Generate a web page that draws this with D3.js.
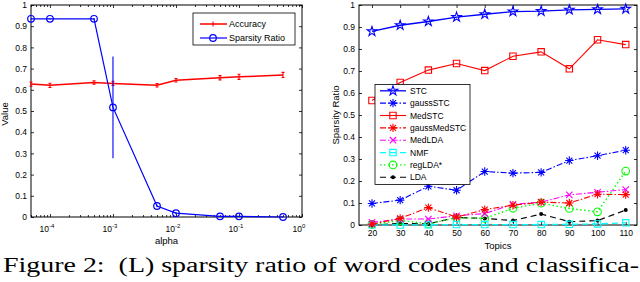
<!DOCTYPE html>
<html><head><meta charset="utf-8">
<script src="https://cdn.jsdelivr.net/npm/d3@7/dist/d3.min.js"></script>
<style>body{margin:0;background:#fff}svg{display:block}</style>
</head><body><svg id="c" width="640" height="282"></svg>
<script>
// ---------- Left chart data ----------
const alpha = [5e-5, 1e-4, 5e-4, 1e-3, 5e-3, 1e-2, 5e-2, 1e-1, 5e-1];
const accuracy = [0.627, 0.621, 0.635, 0.630, 0.621, 0.645, 0.657, 0.661, 0.670];
const accuracyErr = [0.010, 0.010, 0.008, 0.010, 0.008, 0.008, 0.010, 0.012, 0.012];
const sparsity = [0.935, 0.935, 0.935, 0.517, 0.052, 0.018, 0.003, 0.003, 0.000];
const sparsityErr = [0.003, 0.003, 0.003, 0.240, 0.006, 0.005, 0.002, 0.002, 0.002];
const leftYTicks = [0, 0.1, 0.2, 0.3, 0.4, 0.5, 0.6, 0.7, 0.8, 0.9, 1];
const leftYLabels = ["0", "0.1", "0.2", "0.3", "0.4", "0.5", "0.6", "0.7", "0.8", "0.9", "1"];
const leftXTicks = [1e-4, 1e-3, 1e-2, 1e-1, 1];
const leftXExp = ["-4", "-3", "-2", "-1", "0"];
const leftLegend = ["Accuracy", "Sparsity Ratio"];

// ---------- Right chart data ----------
const topics = [20, 30, 40, 50, 60, 70, 80, 90, 100, 110];
const stc = [0.880, 0.908, 0.925, 0.945, 0.958, 0.970, 0.972, 0.978, 0.980, 0.982];
const gaussStc = [0.098, 0.113, 0.176, 0.158, 0.243, 0.236, 0.239, 0.293, 0.315, 0.340];
const medStc = [0.566, 0.648, 0.704, 0.734, 0.702, 0.767, 0.787, 0.710, 0.842, 0.820];
const gaussMedStc = [0.004, 0.030, 0.079, 0.036, 0.070, 0.090, 0.104, 0.100, 0.140, 0.138];
const medLda = [0.012, 0.027, 0.027, 0.042, 0.052, 0.094, 0.104, 0.137, 0.149, 0.161];
const nmf = [0.001, 0.000, 0.001, 0.002, 0.002, 0.002, 0.002, 0.003, 0.005, 0.010];
const regLda = [0.003, 0.020, 0.006, 0.033, 0.030, 0.076, 0.099, 0.075, 0.060, 0.245];
const lda = [0.000, 0.007, 0.005, 0.034, 0.030, 0.020, 0.050, 0.015, 0.020, 0.068];
const rightYTicks = [0, 0.1, 0.2, 0.3, 0.4, 0.5, 0.6, 0.7, 0.8, 0.9, 1];
const rightYLabels = ["0", "0.1", "0.2", "0.3", "0.4", "0.5", "0.6", "0.7", "0.8", "0.9", "1"];
const seriesNames = ["STC", "gaussSTC", "MedSTC", "gaussMedSTC", "MedLDA", "NMF", "regLDA*", "LDA"];

const caption = "Figure 2:  (L) sparsity ratio of word codes and classifica-";

// ---------- drawing ----------
const svg = d3.select("#c");
const FONT = "'Liberation Sans', Arial, Helvetica, sans-serif";

function marker(g, type, cx, cy, color) {
  const p = d3.path();
  if (type === "star") {
    g.append("path").attr("d", d3.symbol(d3.symbolStar).size(28)())
      .attr("transform", `translate(${cx},${cy})`)
      .attr("fill", "none").attr("stroke", color).attr("stroke-width", 1.1);
    return;
  }
  if (type === "asterisk") {
    const r = 4.2, a = 3;
    p.moveTo(cx - r, cy); p.lineTo(cx + r, cy);
    p.moveTo(cx, cy - r); p.lineTo(cx, cy + r);
    p.moveTo(cx - a, cy - a); p.lineTo(cx + a, cy + a);
    p.moveTo(cx - a, cy + a); p.lineTo(cx + a, cy - a);
  } else if (type === "x") {
    const a = 3.2;
    p.moveTo(cx - a, cy - a); p.lineTo(cx + a, cy + a);
    p.moveTo(cx - a, cy + a); p.lineTo(cx + a, cy - a);
  } else if (type === "square") {
    p.rect(cx - 3.2, cy - 3.2, 6.4, 6.4);
  } else if (type === "circle") {
    g.append("circle").attr("cx", cx).attr("cy", cy).attr("r", 3.8)
      .attr("fill", "none").attr("stroke", color).attr("stroke-width", 1.1);
    return;
  } else if (type === "dot") {
    g.append("circle").attr("cx", cx).attr("cy", cy).attr("r", 2)
      .attr("fill", color).attr("stroke", "none");
    return;
  } else if (type === "circleSmall") {
    g.append("circle").attr("cx", cx).attr("cy", cy).attr("r", 3.3)
      .attr("fill", "none").attr("stroke", color).attr("stroke-width", 1.2);
    return;
  }
  g.append("path").attr("d", p.toString()).attr("fill", "none")
    .attr("stroke", color).attr("stroke-width", 1.1);
}

function frame(g, x0, x1, y0, y1) {
  g.append("rect").attr("x", x0).attr("y", y0).attr("width", x1 - x0).attr("height", y1 - y0)
    .attr("fill", "none").attr("stroke", "#000").attr("stroke-width", 1);
}

// ===== LEFT CHART =====
{
  const L = 31, R = 302, T = 5, B = 217;
  const x = d3.scaleLog().domain([5e-5, 1]).range([L, R]);
  const y = d3.scaleLinear().domain([0, 1]).range([B, T]);
  const g = svg.append("g");

  const yl = g.append("g").attr("transform", `translate(${L},0)`)
    .call(d3.axisLeft(y).tickValues(leftYTicks).tickSizeInner(-3).tickSizeOuter(0).tickPadding(4)
      .tickFormat((d, i) => leftYLabels[i]));
  g.append("g").attr("transform", `translate(${R},0)`)
    .call(d3.axisRight(y).tickValues(leftYTicks).tickSizeInner(-3).tickSizeOuter(0).tickFormat(""));
  const minor = x.ticks().filter(v => !leftXTicks.some(m => Math.abs(Math.log10(m) - Math.log10(v)) < 1e-6));
  g.append("g").attr("transform", `translate(0,${B})`)
    .call(d3.axisBottom(x).tickValues(leftXTicks).tickSizeInner(-3).tickSizeOuter(0).tickFormat(""));
  g.append("g").attr("transform", `translate(0,${B})`)
    .call(d3.axisBottom(x).tickValues(minor).tickSizeInner(-2).tickSizeOuter(0).tickFormat(""));
  g.append("g").attr("transform", `translate(0,${T})`)
    .call(d3.axisTop(x).tickValues(leftXTicks).tickSizeInner(-3).tickSizeOuter(0).tickFormat(""));
  g.append("g").attr("transform", `translate(0,${T})`)
    .call(d3.axisTop(x).tickValues(minor).tickSizeInner(-2).tickSizeOuter(0).tickFormat(""));
  g.selectAll(".domain").remove();
  g.selectAll(".tick line").attr("stroke", "#000").attr("stroke-width", 0.8);
  yl.selectAll("text").attr("font-family", FONT).attr("font-size", 8.5).attr("fill", "#000");

  leftXTicks.forEach((v, i) => {
    const t = g.append("text").attr("x", x(v) - 3).attr("y", B + 15)
      .attr("text-anchor", "middle").attr("font-family", FONT).attr("font-size", 8.5);
    t.append("tspan").text("10");
    t.append("tspan").attr("dy", -4).attr("font-size", 6).text(leftXExp[i]);
  });
  frame(g, L, R, T, B);

  g.append("text").attr("x", (L + R) / 2).attr("y", 244).attr("text-anchor", "middle")
    .attr("font-family", FONT).attr("font-size", 9.5).text("alpha");
  g.append("text").attr("transform", `translate(8,${(T + B) / 2 + 3}) rotate(-90)`)
    .attr("text-anchor", "middle").attr("font-family", FONT).attr("font-size", 9.5).text("Value");

  const RED = "#ff0000", BLUE = "#0000ff";
  g.append("path").datum(alpha.map((a, i) => [a, accuracy[i]]))
    .attr("d", d3.line().x(d => x(d[0])).y(d => y(d[1])))
    .attr("fill", "none").attr("stroke", RED).attr("stroke-width", 1.5);
  alpha.forEach((a, i) => {
    const cx = x(a), y1 = y(accuracy[i] - accuracyErr[i]), y2 = y(accuracy[i] + accuracyErr[i]);
    g.append("path").attr("d", `M${cx},${y1}L${cx},${y2}M${cx - 1.5},${y1}L${cx + 1.5},${y1}M${cx - 1.5},${y2}L${cx + 1.5},${y2}`)
      .attr("stroke", RED).attr("stroke-width", 1.1).attr("fill", "none");
  });
  g.append("path").datum(alpha.map((a, i) => [a, sparsity[i]]))
    .attr("d", d3.line().x(d => x(d[0])).y(d => y(d[1])))
    .attr("fill", "none").attr("stroke", BLUE).attr("stroke-width", 1.2);
  alpha.forEach((a, i) => {
    const cx = x(a), y1 = y(sparsity[i] - sparsityErr[i]), y2 = y(sparsity[i] + sparsityErr[i]);
    g.append("path").attr("d", `M${cx},${y1}L${cx},${y2}`)
      .attr("stroke", BLUE).attr("stroke-width", 1.1).attr("fill", "none");
    marker(g, "circleSmall", cx, y(sparsity[i]), BLUE);
  });

  const lg = g.append("g");
  lg.append("rect").attr("x", 193).attr("y", 13).attr("width", 102).attr("height", 32)
    .attr("fill", "#fff").attr("stroke", "#000").attr("stroke-width", 0.8);
  const ly = [24, 38];
  lg.append("line").attr("x1", 200).attr("x2", 227).attr("y1", ly[0]).attr("y2", ly[0])
    .attr("stroke", RED).attr("stroke-width", 1.5);
  lg.append("line").attr("x1", 213).attr("x2", 213).attr("y1", ly[0] - 2.5).attr("y2", ly[0] + 2.5)
    .attr("stroke", RED).attr("stroke-width", 1.1);
  lg.append("line").attr("x1", 200).attr("x2", 227).attr("y1", ly[1]).attr("y2", ly[1])
    .attr("stroke", BLUE).attr("stroke-width", 1.2);
  marker(lg, "circleSmall", 213, ly[1], BLUE);
  leftLegend.forEach((s, i) => {
    lg.append("text").attr("x", 229).attr("y", ly[i] + 3.2).attr("font-family", FONT)
      .attr("font-size", 9).text(s);
  });
}

// ===== RIGHT CHART =====
{
  const L = 359, R = 637, T = 5, B = 225;
  const x = d3.scaleLinear().domain([15.4, 114]).range([L, R]);
  const y = d3.scaleLinear().domain([0, 1]).range([B, T]);
  const g = svg.append("g");

  g.append("g").attr("transform", `translate(${L},0)`)
    .call(d3.axisLeft(y).tickValues(rightYTicks).tickSizeInner(-3).tickSizeOuter(0).tickPadding(4)
      .tickFormat((d, i) => rightYLabels[i]));
  g.append("g").attr("transform", `translate(${R},0)`)
    .call(d3.axisRight(y).tickValues(rightYTicks).tickSizeInner(-3).tickSizeOuter(0).tickFormat(""));
  g.append("g").attr("transform", `translate(0,${B})`)
    .call(d3.axisBottom(x).tickValues(topics).tickSizeInner(-3).tickSizeOuter(0).tickPadding(5)
      .tickFormat(d3.format("d")));
  g.append("g").attr("transform", `translate(0,${T})`)
    .call(d3.axisTop(x).tickValues(topics).tickSizeInner(-3).tickSizeOuter(0).tickFormat(""));
  g.selectAll(".domain").remove();
  g.selectAll(".tick line").attr("stroke", "#000").attr("stroke-width", 0.8);
  g.selectAll(".tick text").attr("font-family", FONT).attr("font-size", 8.5).attr("fill", "#000");
  frame(g, L, R, T, B);

  g.append("text").attr("x", (L + R) / 2).attr("y", 249).attr("text-anchor", "middle")
    .attr("font-family", FONT).attr("font-size", 9.5).text("Topics");
  g.append("text").attr("transform", `translate(339,${(T + B) / 2}) rotate(-90)`)
    .attr("text-anchor", "middle").attr("font-family", FONT).attr("font-size", 9.5).text("Sparsity Ratio");

  const styles = [
    { v: stc, c: "#0000ff", dash: null, m: "star", w: 1.3 },
    { v: gaussStc, c: "#0000ff", dash: "6,2,1.5,2", m: "asterisk", w: 1.1 },
    { v: medStc, c: "#ff0000", dash: null, m: "square", w: 1.1 },
    { v: gaussMedStc, c: "#ff0000", dash: "6,2,1.5,2", m: "asterisk", w: 1.1 },
    { v: medLda, c: "#ff00ff", dash: "6,2,1.5,2", m: "x", w: 1.1 },
    { v: nmf, c: "#00ffff", dash: "6,4", m: "square", w: 1.3 },
    { v: regLda, c: "#00ff00", dash: "1.5,2.5", m: "circle", w: 1.4 },
    { v: lda, c: "#000000", dash: "6,4", m: "dot", w: 1.1 }
  ];
  const line = d3.line().x((d, i) => x(topics[i])).y(d => y(d));
  styles.slice().reverse().forEach(s => {
    g.append("path").datum(s.v).attr("d", line).attr("fill", "none")
      .attr("stroke", s.c).attr("stroke-width", s.w).attr("stroke-dasharray", s.dash);
    s.v.forEach((v, i) => marker(g, s.m, x(topics[i]), y(v), s.c));
  });

  const lg = g.append("g");
  lg.append("rect").attr("x", 375).attr("y", 84.5).attr("width", 95).attr("height", 100)
    .attr("fill", "#fff").attr("stroke", "#000").attr("stroke-width", 0.8);
  seriesNames.forEach((n, i) => {
    const yy = 90.8 + i * 12.35, s = styles[i];
    lg.append("line").attr("x1", 380).attr("x2", 406).attr("y1", yy).attr("y2", yy)
      .attr("stroke", s.c).attr("stroke-width", s.w).attr("stroke-dasharray", s.dash);
    marker(lg, s.m, 393, yy, s.c);
    lg.append("text").attr("x", 410).attr("y", yy + 3.2).attr("font-family", FONT)
      .attr("font-size", 8.5).text(n);
  });
}

// caption
svg.append("text").attr("x", 3).attr("y", 272).attr("font-family", "'Liberation Serif', 'DejaVu Serif', serif")
  .attr("font-size", 20.5).attr("textLength", 636).attr("lengthAdjust", "spacingAndGlyphs")
  .attr("xml:space", "preserve").style("white-space", "pre").text(caption);
</script>
</body></html>
